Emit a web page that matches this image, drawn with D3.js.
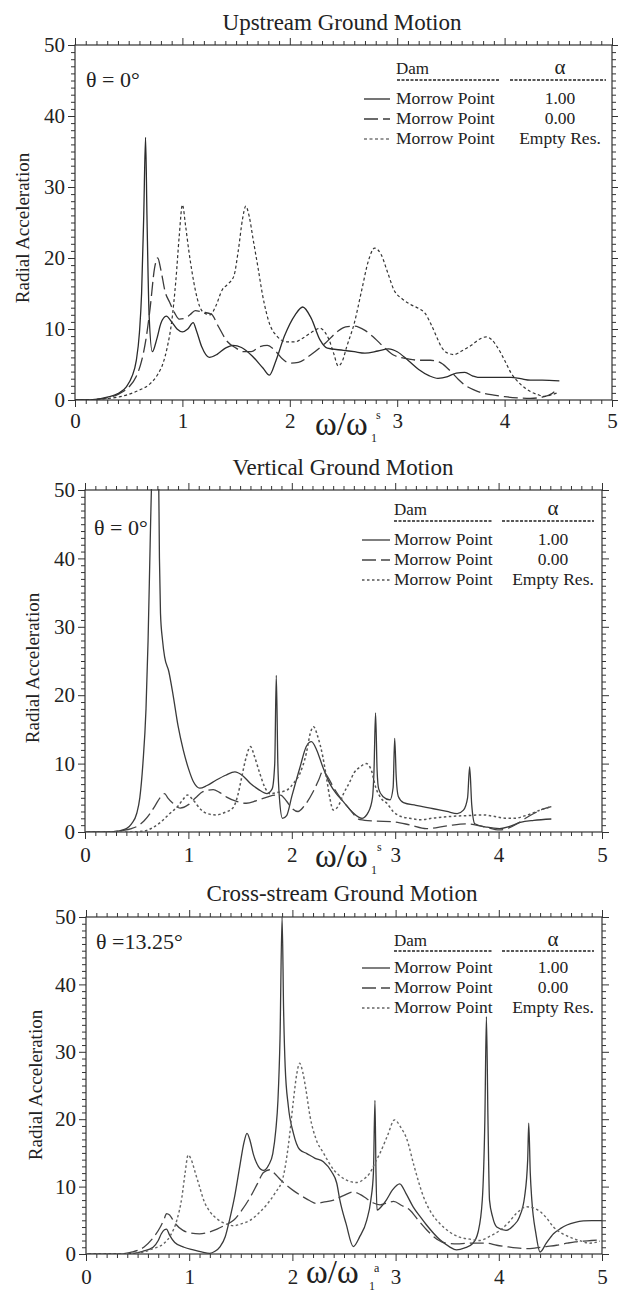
<!DOCTYPE html>
<html><head><meta charset="utf-8">
<script src="https://cdn.jsdelivr.net/npm/d3@7"></script>
<style>
body{margin:0;background:#fff}
svg{display:block}
svg text{font-family:"Liberation Serif","Times New Roman",serif !important;fill:#222}
</style>
</head><body>
<svg id="c" width="618" height="1293"></svg>
<script>
// ---------- data ----------
const xTicks = [0, 1, 2, 3, 4, 5];
const yTicks = [0, 10, 20, 30, 40, 50];
const titles = ["Upstream Ground Motion", "Vertical Ground Motion", "Cross-stream Ground Motion"];
const thetaLabels = ["θ = 0°", "θ = 0°", "θ =13.25°"];
const xSup = ["s", "s", "a"];
const damNames = ["Morrow Point", "Morrow Point", "Morrow Point"];
const alphaLabels = ["1.00", "0.00", "Empty Res."];

// Upstream ground motion: [ω/ω1, radial acceleration]
const upSolid = [[0,0],[0.1,0],[0.2,0.1],[0.3,0.4],[0.4,0.9],[0.48,1.9],[0.53,3.3],[0.57,5.5],[0.6,9.5],[0.62,15],[0.64,26],[0.657,37],[0.67,26],[0.69,12],[0.72,6.8],[0.76,8.5],[0.8,10.8],[0.85,11.8],[0.9,11],[0.95,10],[1.0,9.6],[1.05,10],[1.1,10.9],[1.13,9.8],[1.18,7.5],[1.25,6],[1.32,6.4],[1.4,7.3],[1.47,7.7],[1.55,7.4],[1.65,6.2],[1.75,4.5],[1.81,3.5],[1.87,5.5],[1.95,9],[2.05,12],[2.12,13.1],[2.2,11.5],[2.28,8.5],[2.35,7.3],[2.5,7],[2.6,6.8],[2.7,6.6],[2.82,6.9],[2.92,7.2],[3.0,6.8],[3.1,5.6],[3.2,4.3],[3.3,3.4],[3.38,3.05],[3.47,3.3],[3.55,3.8],[3.63,3.9],[3.7,3.4],[3.75,3.2],[3.9,3.2],[4.06,3.2],[4.15,3.0],[4.24,2.8],[4.35,2.8],[4.51,2.7]];
const upDashed = [[0,0],[0.1,0],[0.2,0.1],[0.3,0.3],[0.4,0.8],[0.5,1.8],[0.57,3.3],[0.62,5.5],[0.66,8.5],[0.7,13],[0.74,18.5],[0.77,20],[0.8,18.3],[0.84,15.2],[0.88,13.8],[0.93,12.2],[0.97,11.4],[1.02,11.5],[1.07,12],[1.12,12.6],[1.18,12.4],[1.27,12.1],[1.33,10.5],[1.42,8.2],[1.5,7.3],[1.57,6.8],[1.64,6.8],[1.72,7.5],[1.79,7.7],[1.86,7],[1.93,5.8],[2.0,5.2],[2.08,5.3],[2.19,6.3],[2.33,8.0],[2.44,9.6],[2.52,10.3],[2.6,10.4],[2.7,9.8],[2.79,8.7],[2.88,7.4],[2.97,6.3],[3.1,5.8],[3.2,5.6],[3.31,5.6],[3.41,5.2],[3.5,4.0],[3.57,2.9],[3.63,2.1],[3.72,1.4],[3.81,0.93],[3.9,0.7],[4.0,0.47],[4.12,0.3],[4.24,0.23],[4.37,0.47],[4.44,0.9],[4.49,1.5]];
const upDotted = [[0,0],[0.1,0],[0.2,0.1],[0.3,0.2],[0.4,0.4],[0.5,0.8],[0.6,1.4],[0.7,2.3],[0.77,3.6],[0.82,5.2],[0.86,7.5],[0.9,11],[0.94,17],[0.97,23],[1.0,27.5],[1.03,24.5],[1.06,21],[1.09,18],[1.12,15.5],[1.16,13.2],[1.21,12.2],[1.26,12.0],[1.31,13.2],[1.37,15.5],[1.43,16.4],[1.48,17.5],[1.52,21],[1.56,25.5],[1.59,27.3],[1.62,26],[1.66,22.5],[1.7,19],[1.75,14.5],[1.81,10.8],[1.88,9],[1.97,8.2],[2.05,8.2],[2.12,8.7],[2.2,9.5],[2.28,10.1],[2.33,9.5],[2.37,8.3],[2.41,6.5],[2.45,4.8],[2.49,5.5],[2.53,7.5],[2.6,10.8],[2.67,15.5],[2.73,19.5],[2.79,21.4],[2.85,20.5],[2.91,18],[2.97,15.5],[3.05,14.2],[3.13,13.4],[3.2,12.9],[3.26,12.2],[3.32,10.5],[3.37,8.8],[3.41,7.5],[3.47,6.6],[3.53,6.4],[3.6,6.9],[3.69,7.7],[3.77,8.6],[3.83,8.9],[3.88,8.5],[3.93,7.5],[4.0,5.6],[4.06,3.8],[4.15,2.2],[4.24,1.2],[4.32,0.7],[4.37,0.5],[4.43,0.7],[4.49,1.0]];

// Vertical ground motion
const vtSolid = [[0,0],[0.2,0],[0.3,0.1],[0.4,0.5],[0.45,1.2],[0.5,2.7],[0.53,5],[0.56,10],[0.59,18],[0.61,28],[0.63,42],[0.65,55],[0.68,62],[0.71,55],[0.72,40],[0.73,32],[0.75,28],[0.77,25.6],[0.81,23.5],[0.85,20.2],[0.9,15.5],[0.95,12],[1.0,9.3],[1.05,7.3],[1.11,6.4],[1.18,6.8],[1.27,7.6],[1.36,8.3],[1.45,8.8],[1.52,8.3],[1.6,7.1],[1.68,6.2],[1.76,5.6],[1.81,6.3],[1.835,10],[1.85,22.9],[1.865,10],[1.88,5.0],[1.91,2.0],[1.95,2.4],[2.0,5.2],[2.08,9.5],[2.14,12.5],[2.19,13.2],[2.24,12],[2.3,9.5],[2.37,7],[2.43,5.6],[2.5,4.4],[2.58,3.0],[2.68,2.0],[2.74,2.9],[2.78,5],[2.795,9],[2.81,17.4],[2.825,9],[2.84,6.3],[2.88,5.2],[2.95,4.7],[2.98,6.5],[2.995,13.7],[3.01,8],[3.03,5.2],[3.08,4.3],[3.2,3.9],[3.37,3.4],[3.5,3.0],[3.6,2.7],[3.66,3.2],[3.7,5],[3.72,9.5],[3.74,4],[3.77,1.2],[3.89,0.7],[4.01,0.5],[4.1,0.8],[4.21,1.4],[4.34,1.7],[4.51,1.9]];
const vtDashed = [[0,0],[0.24,0],[0.35,0.2],[0.45,0.5],[0.5,0.8],[0.57,1.6],[0.63,2.7],[0.68,3.9],[0.73,5.1],[0.77,5.6],[0.8,5.0],[0.85,4.2],[0.92,3.5],[1.0,4.0],[1.07,5.0],[1.14,5.9],[1.24,6.2],[1.3,5.8],[1.37,5.1],[1.46,4.5],[1.56,4.2],[1.66,4.6],[1.76,5.1],[1.84,5.4],[1.89,5.4],[1.95,4.5],[2.0,3.5],[2.06,3.0],[2.12,3.8],[2.21,6.0],[2.26,7.6],[2.3,8.9],[2.35,8.0],[2.4,6.6],[2.47,5.0],[2.55,3.5],[2.66,1.8],[2.8,1.6],[2.98,1.5],[3.15,1.0],[3.3,0.5],[3.5,0.9],[3.69,1.2],[3.85,0.8],[4.01,0.3],[4.1,0.6],[4.18,1.2],[4.26,2.0],[4.34,2.7],[4.42,3.3],[4.51,3.7]];
const vtDotted = [[0,0],[0.4,0],[0.56,0.1],[0.65,0.6],[0.72,1.3],[0.82,2.7],[0.9,3.8],[0.95,4.8],[0.99,5.4],[1.05,4.6],[1.12,3.3],[1.18,2.7],[1.27,2.5],[1.36,2.9],[1.43,3.5],[1.48,5.5],[1.51,7.6],[1.56,11],[1.6,12.5],[1.64,11],[1.69,8.6],[1.74,6.5],[1.79,5.6],[1.87,5.8],[1.95,6.1],[2.02,7.2],[2.08,8.6],[2.14,11.5],[2.18,14.5],[2.21,15.4],[2.25,14],[2.3,11],[2.34,7.5],[2.37,4.8],[2.4,3.2],[2.45,3.8],[2.5,5.6],[2.56,7.3],[2.6,8.6],[2.66,9.5],[2.72,10.0],[2.77,9.0],[2.81,6.6],[2.86,5.0],[2.92,4.2],[2.98,3.0],[3.05,2.3],[3.14,2.0],[3.24,1.8],[3.4,2.1],[3.56,2.3],[3.7,2.4],[3.85,2.5],[3.95,2.3],[4.08,2.0],[4.16,2.0],[4.24,2.3],[4.32,2.7],[4.4,3.2],[4.51,3.7]];

// Cross-stream ground motion
const csSolid = [[0,0],[0.25,0],[0.35,0],[0.46,0.1],[0.55,0.4],[0.65,1.0],[0.7,2],[0.73,3.0],[0.76,3.6],[0.78,3.7],[0.81,2.8],[0.86,1.7],[0.95,1.0],[1.04,0.6],[1.12,0.3],[1.2,0.1],[1.25,0.4],[1.3,1.1],[1.35,2.6],[1.39,5.0],[1.44,8.5],[1.49,13],[1.53,16.5],[1.56,17.9],[1.59,16.8],[1.62,14.9],[1.67,13],[1.72,12.4],[1.77,13.2],[1.81,14.9],[1.84,18.5],[1.86,22.8],[1.88,32],[1.9,50],[1.915,36],[1.93,27.8],[1.96,22],[2.01,17.9],[2.07,15.5],[2.14,14.9],[2.22,14.2],[2.3,13.7],[2.38,12.2],[2.43,10.5],[2.46,8.0],[2.52,4.5],[2.59,1.1],[2.65,2.5],[2.72,5.0],[2.76,8],[2.785,12],[2.8,22.8],[2.81,12],[2.82,6.5],[2.86,7.0],[2.91,8.0],[2.97,9.5],[3.04,10.4],[3.1,9.0],[3.17,7.0],[3.24,5.5],[3.3,4.3],[3.43,2.1],[3.52,1.1],[3.59,0.6],[3.67,0.9],[3.75,1.6],[3.8,3.3],[3.84,8.0],[3.865,20],[3.88,35.2],[3.895,20],[3.91,8],[3.94,5.5],[3.98,4.0],[4.07,3.5],[4.14,4.2],[4.2,5.5],[4.25,8.5],[4.28,14],[4.29,19.4],[4.305,12],[4.32,8],[4.36,3],[4.4,0.3],[4.46,1.6],[4.53,3.0],[4.6,3.8],[4.66,4.3],[4.74,4.7],[4.82,4.9],[4.9,4.95],[5.0,4.95]];
const csDashed = [[0,0],[0.3,0],[0.45,0.3],[0.56,1.0],[0.64,2.2],[0.72,4.0],[0.76,5.3],[0.78,6.0],[0.81,5.8],[0.86,4.6],[0.94,3.5],[1.02,3.1],[1.1,3.0],[1.18,3.2],[1.27,3.7],[1.35,4.3],[1.43,5.0],[1.51,6.5],[1.59,8.4],[1.66,10.4],[1.72,12.1],[1.78,12.5],[1.83,11.9],[1.88,11.1],[1.95,10.1],[2.01,9.4],[2.09,8.6],[2.17,7.9],[2.23,7.5],[2.3,7.7],[2.4,8.0],[2.5,8.7],[2.59,9.2],[2.66,8.8],[2.72,8.2],[2.78,7.6],[2.85,7.3],[2.92,7.6],[2.98,7.8],[3.06,7.2],[3.14,6.5],[3.22,5.0],[3.3,3.6],[3.4,2.2],[3.49,1.6],[3.6,1.5],[3.69,1.6],[3.78,1.6],[3.88,1.6],[3.98,1.3],[4.07,1.1],[4.17,0.9],[4.27,0.8],[4.36,0.9],[4.46,1.1],[4.56,1.3],[4.66,1.6],[4.74,1.8],[4.82,1.9],[4.9,2.0],[4.98,2.1]];
const csDotted = [[0,0],[0.35,0],[0.5,0.15],[0.56,0.3],[0.65,0.8],[0.75,1.5],[0.82,2.8],[0.88,5.0],[0.93,8.5],[0.96,12],[0.99,14.7],[1.02,14],[1.06,12],[1.1,10],[1.14,8.0],[1.2,6.3],[1.27,5.2],[1.35,4.5],[1.43,4.2],[1.51,4.5],[1.59,5.0],[1.67,6.0],[1.75,7.3],[1.83,9.0],[1.91,11.4],[1.96,16],[2.01,22.8],[2.04,26.5],[2.07,28.3],[2.1,27],[2.13,24.5],[2.17,20.5],[2.23,17],[2.3,15.0],[2.4,12.5],[2.52,11.0],[2.62,10.6],[2.7,11.2],[2.75,12],[2.8,13.5],[2.85,15],[2.92,17.5],[2.99,19.9],[3.05,18.8],[3.11,17],[3.18,13],[3.27,8.5],[3.35,6.0],[3.43,4.5],[3.52,3.3],[3.62,2.5],[3.72,2.2],[3.81,2.0],[3.91,2.6],[4.01,3.5],[4.09,4.6],[4.17,6.0],[4.27,7.0],[4.34,6.8],[4.4,6.3],[4.47,5.2],[4.53,4.0],[4.62,3.0],[4.72,2.3],[4.8,1.9],[4.88,1.6],[4.98,1.9]];

const panelSeries = [[upSolid, upDashed, upDotted], [vtSolid, vtDashed, vtDotted], [csSolid, csDashed, csDotted]];

// ---------- layout (positions only) ----------
const layouts = [
  {l:75, r:612, t:45, b:400, tx:342, ty:30, thx:86, thy:87, s1:364, s2:390, lt:396, ax:560, damY:74, dashY:80, d1:397, d2:500, a1:510, a2:606, rows:[104,124,144], ytx:29, yty:228, xtx:315, xty:435, supx:376, supy:419, subx:371, suby:442, xlOff:13},
  {l:85, r:602, t:490, b:832, tx:343, ty:475, thx:94, thy:535, s1:362, s2:390, lt:394, ax:553, damY:515, dashY:521, d1:394, d2:492, a1:502, a2:594, rows:[545,565,585], ytx:39, yty:668, xtx:315, xty:867, supx:377, supy:851, subx:371, suby:874, xlOff:15},
  {l:86, r:602, t:917, b:1254, tx:342, ty:901, thx:96, thy:949, s1:362, s2:390, lt:394, ax:553, damY:946, dashY:951, d1:394, d2:492, a1:502, a2:594, rows:[973,993,1013], ytx:42, yty:1085, xtx:306, xty:1283, supx:374, supy:1272, subx:369, suby:1290, xlOff:15}
];

const FONT = '"Liberation Serif","Times New Roman",serif';
const lineStyles = [
  [{dash:null,w:1.3,c:"#2b2b2b"},{dash:"14,5",w:1.3,c:"#3a3a3a"},{dash:"3,2.5",w:1.2,c:"#333"}],
  [{dash:null,w:1.3,c:"#3a3a3a"},{dash:"14,5",w:1.3,c:"#444"},{dash:"2.5,2.5",w:1.5,c:"#555"}],
  [{dash:null,w:1.3,c:"#3a3a3a"},{dash:"14,5",w:1.3,c:"#444"},{dash:"2.5,2.5",w:1.4,c:"#666"}]
];

const svg = d3.select("#c").style("font-family", FONT);
const minorX = d3.range(51).filter(k => k % 10).map(k => k / 10);
const minorY = d3.range(51).filter(k => k % 10);

const txt = (g, x, y, s, size, anchor) => g.append("text").attr("x", x).attr("y", y)
  .attr("text-anchor", anchor || "start").style("font-family", FONT).style("font-size", size + "px").text(s);

layouts.forEach((L, i) => {
  const x = d3.scaleLinear().domain([0, 5]).range([L.l, L.r]);
  const y = d3.scaleLinear().domain([0, 50]).range([L.b, L.t]);
  const g = svg.append("g").style("color", "#333");

  txt(g, L.tx, L.ty, titles[i], 23, "middle");

  const cid = "clip" + i;
  svg.append("clipPath").attr("id", cid).append("rect")
    .attr("x", L.l).attr("y", L.t - 1).attr("width", L.r - L.l).attr("height", L.b - L.t + 1);

  const addAxis = (axis, tr) => {
    const a = g.append("g").attr("transform", tr).call(axis).attr("font-family", FONT);
    a.select(".domain").remove();
    a.selectAll("line").attr("stroke-width", 1);
    return a;
  };
  addAxis(d3.axisBottom(x).tickValues(minorX).tickSize(4).tickFormat(""), `translate(0,${L.b})`);
  addAxis(d3.axisTop(x).tickValues(minorX).tickSize(4).tickFormat(""), `translate(0,${L.t})`);
  addAxis(d3.axisTop(x).tickValues(xTicks).tickSize(7).tickFormat(""), `translate(0,${L.t})`);
  addAxis(d3.axisLeft(y).tickValues(minorY).tickSize(4).tickFormat(""), `translate(${L.l},0)`);
  addAxis(d3.axisRight(y).tickValues(minorY).tickSize(4).tickFormat(""), `translate(${L.r},0)`);
  addAxis(d3.axisRight(y).tickValues(yTicks).tickSize(7).tickFormat(""), `translate(${L.r},0)`);
  const bx = addAxis(d3.axisBottom(x).tickValues(xTicks).tickSize(7).tickPadding(L.xlOff - 7).tickFormat(d3.format("d")), `translate(0,${L.b})`);
  bx.selectAll("text").style("font-family", FONT).style("font-size", "21px").style("fill", "#222");
  const ly = addAxis(d3.axisLeft(y).tickValues(yTicks).tickSize(7).tickPadding(3).tickFormat(d3.format("d")), `translate(${L.l},0)`);
  ly.selectAll("text").style("font-family", FONT).style("font-size", "21px").style("fill", "#222");

  g.append("rect").attr("x", L.l).attr("y", L.t).attr("width", L.r - L.l).attr("height", L.b - L.t)
    .attr("fill", "none").attr("stroke", "#333").attr("stroke-width", 1.2);

  const line = d3.line().x(d => x(d[0])).y(d => y(d[1])).curve(d3.curveMonotoneX);
  const cg = g.append("g").attr("clip-path", `url(#${cid})`);
  panelSeries[i].forEach((s, k) => {
    const st = lineStyles[i][k];
    cg.append("path").datum(s).attr("d", line).attr("fill", "none")
      .attr("stroke", st.c).attr("stroke-width", st.w)
      .attr("stroke-dasharray", st.dash).attr("stroke-linejoin", "round");
  });

  txt(g, L.thx, L.thy, thetaLabels[i], 22);

  // legend
  txt(g, L.lt, L.damY, "Dam", 17);
  txt(g, L.ax, L.damY, "α", 21, "middle");
  [[L.d1, L.d2], [L.a1, L.a2]].forEach(([a, b]) => {
    g.append("line").attr("x1", a).attr("x2", b).attr("y1", L.dashY).attr("y2", L.dashY)
      .attr("stroke", "#222").attr("stroke-width", 1.4).attr("stroke-dasharray", "3,1.5");
  });
  L.rows.forEach((ry, k) => {
    const st = lineStyles[i][k];
    g.append("line").attr("x1", L.s1).attr("x2", L.s2).attr("y1", ry - 5).attr("y2", ry - 5)
      .attr("stroke", st.c).attr("stroke-width", st.w).attr("stroke-dasharray", st.dash);
    txt(g, L.lt, ry, damNames[k], 17.5);
    txt(g, L.ax, ry, alphaLabels[k], 17.5, "middle");
  });

  // axis titles
  g.append("text").attr("transform", `translate(${L.ytx},${L.yty}) rotate(-90)`)
    .attr("text-anchor", "middle").style("font-family", FONT).style("font-size", "19px").text("Radial Acceleration");
  txt(g, L.xtx, L.xty, "ω/ω", 33);
  txt(g, L.supx, L.supy, xSup[i], 12);
  txt(g, L.subx, L.suby, "1", 12);
});
</script>
</body></html>
